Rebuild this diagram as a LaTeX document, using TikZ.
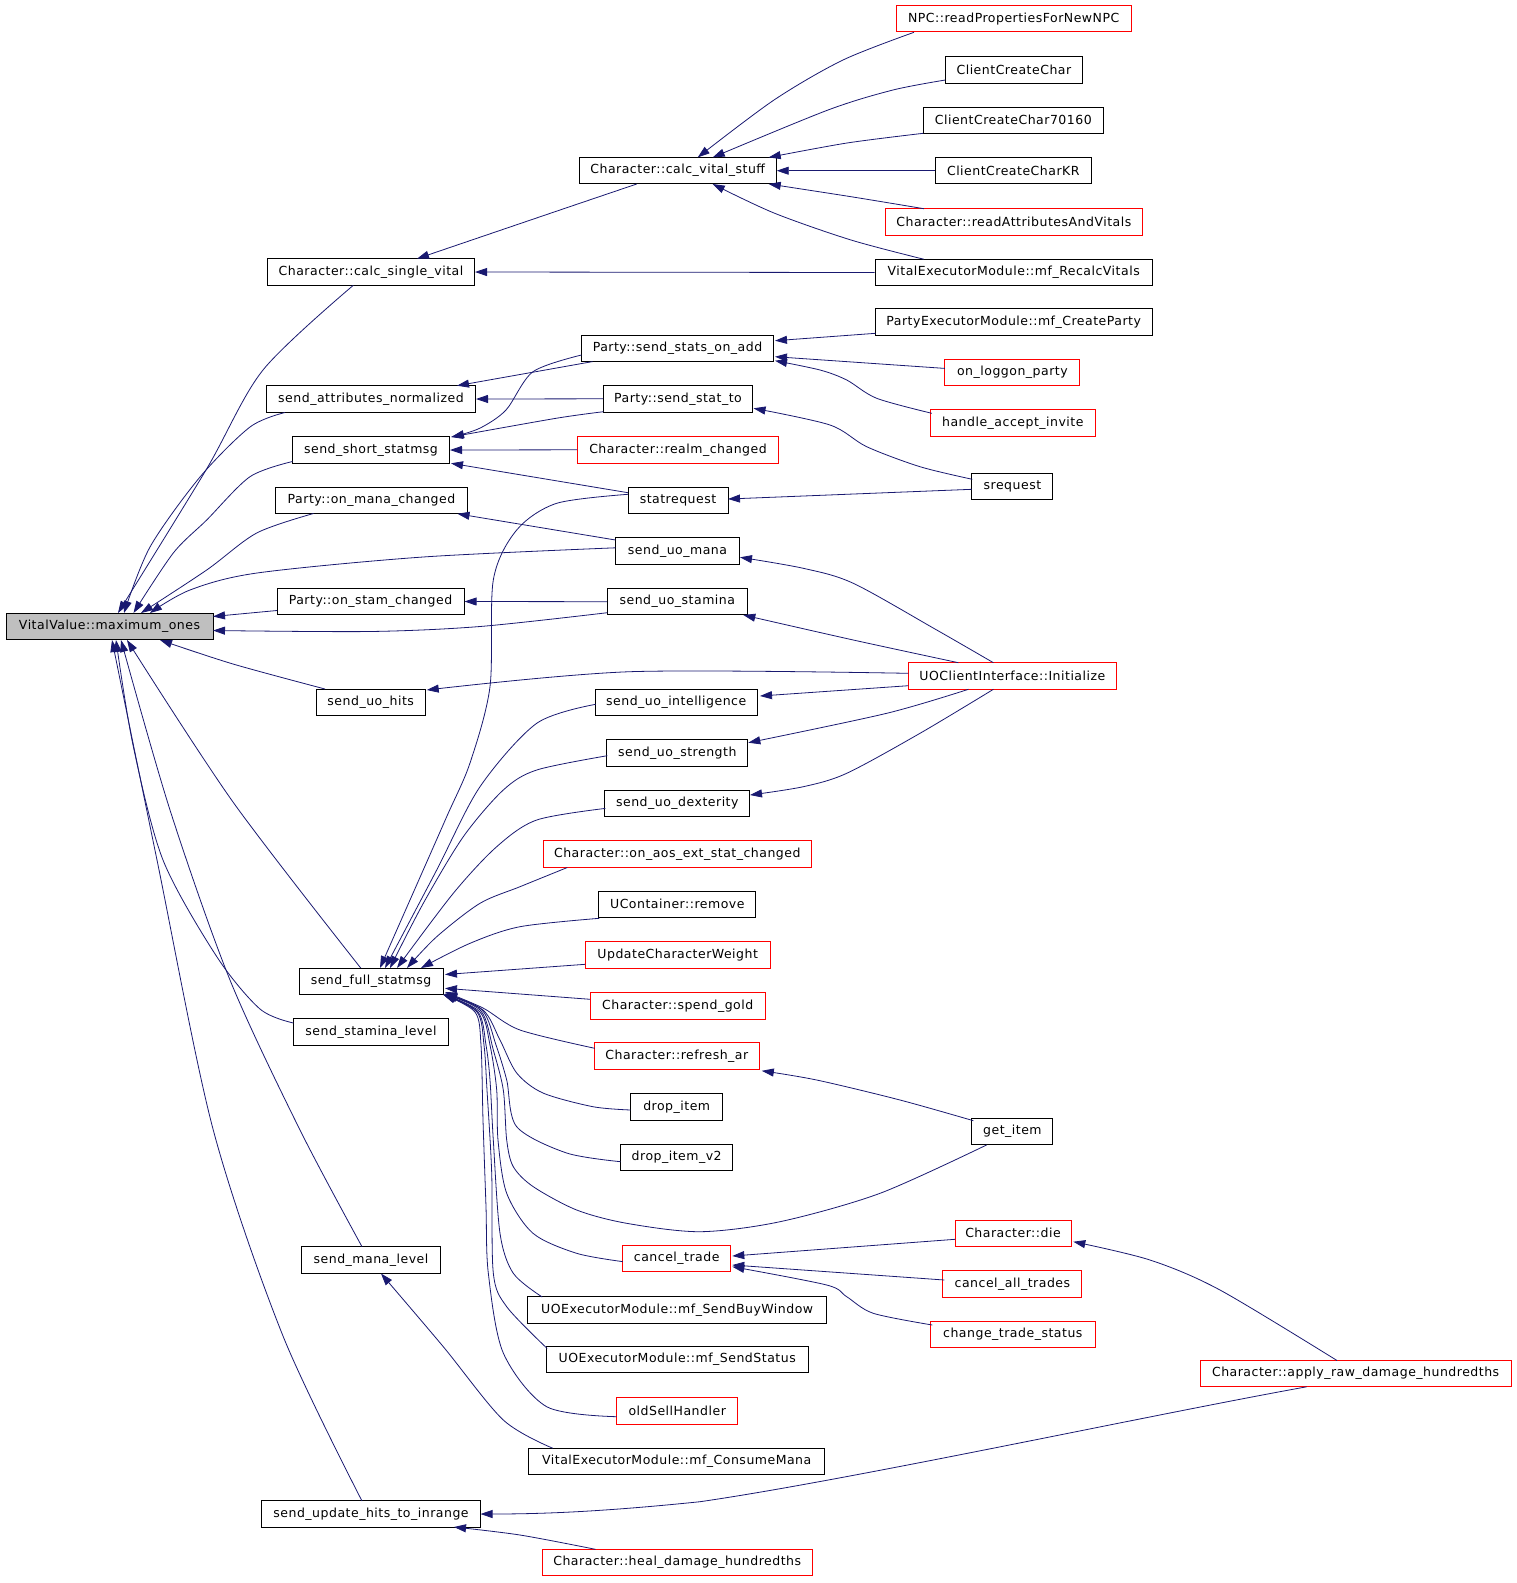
\documentclass[tikz,border=0pt]{standalone}
\usepackage{fontspec}
\usetikzlibrary{arrows.meta,calc}
\newfontfamily\fnt{DejaVu Sans}[LetterSpace=4]
\definecolor{edgecol}{RGB}{25,25,112}
\definecolor{rootgray}{RGB}{191,191,191}
\tikzset{
  box/.style={draw=black, line width=1pt, fill=white, minimum height=26.5pt, inner sep=0pt,
    font={\fnt\fontsize{12.5}{15}\selectfont}},
  redbox/.style={box, draw=red},
  edge/.style={draw=edgecol, line width=0.8pt, -{Triangle[length=12pt,width=8pt]}},
}
\begin{document}
\begin{tikzpicture}[x=1pt,y=-1pt]
\useasboundingbox (0,0) rectangle (1517,1583);
% column 0
\node[box, fill=rootgray, minimum width=207] (vv) at (109.5,626.5) {VitalValue::maximum\_ones};
% column 1
\node[box, minimum width=207] (csv) at (371,272) {Character::calc\_single\_vital};
\node[box, minimum width=209] (san) at (371,399) {send\_attributes\_normalized};
\node[box, minimum width=157] (sss) at (371,450) {send\_short\_statmsg};
\node[box, minimum width=192] (omc) at (371.5,500.5) {Party::on\_mana\_changed};
\node[box, minimum width=187] (osc) at (370.5,601.5) {Party::on\_stam\_changed};
\node[box, minimum width=109] (suh) at (370.7,702.5) {send\_uo\_hits};
\node[box, minimum width=144] (sfs) at (371,981.5) {send\_full\_statmsg};
\node[box, minimum width=155] (ssl) at (371,1032) {send\_stamina\_level};
\node[box, minimum width=139] (sml) at (371,1260) {send\_mana\_level};
\node[box, minimum width=219] (suhi) at (371,1514) {send\_update\_hits\_to\_inrange};
% column 2
\node[box, minimum width=197] (cvs) at (677.7,170.7) {Character::calc\_vital\_stuff};
\node[box, minimum width=192] (ssoa) at (677.5,348.3) {Party::send\_stats\_on\_add};
\node[box, minimum width=149] (sst) at (678,398.8) {Party::send\_stat\_to};
\node[redbox, minimum width=201] (rc) at (678,449.8) {Character::realm\_changed};
\node[box, minimum width=100] (sr) at (678,500.3) {statrequest};
\node[box, minimum width=124] (sum) at (677.5,550.8) {send\_uo\_mana};
\node[box, minimum width=140] (sus) at (677.3,601.7) {send\_uo\_stamina};
\node[box, minimum width=162] (sui) at (676.2,702.5) {send\_uo\_intelligence};
\node[box, minimum width=141] (sust) at (677.3,753) {send\_uo\_strength};
\node[box, minimum width=145] (sud) at (677.3,803.4) {send\_uo\_dexterity};
\node[redbox, minimum width=268] (aos) at (677.3,854) {Character::on\_aos\_ext\_stat\_changed};
\node[box, minimum width=157] (ucr) at (677.3,904.3) {UContainer::remove};
\node[redbox, minimum width=185] (ucw) at (677.7,955) {UpdateCharacterWeight};
\node[redbox, minimum width=175] (sg) at (677.7,1006) {Character::spend\_gold};
\node[redbox, minimum width=165] (rar) at (676.8,1055.8) {Character::refresh\_ar};
\node[box, minimum width=92] (di) at (676.7,1107) {drop\_item};
\node[box, minimum width=112] (di2) at (676.7,1157.7) {drop\_item\_v2};
\node[redbox, minimum width=108] (ct) at (676.7,1258.6) {cancel\_trade};
\node[box, minimum width=299] (sbw) at (677.2,1310) {UOExecutorModule::mf\_SendBuyWindow};
\node[box, minimum width=262] (sstat) at (677.2,1359.5) {UOExecutorModule::mf\_SendStatus};
\node[redbox, minimum width=121] (osh) at (677.2,1411) {oldSellHandler};
\node[box, minimum width=296] (cm) at (676.7,1461.5) {VitalExecutorModule::mf\_ConsumeMana};
\node[redbox, minimum width=270] (hdh) at (677.2,1562.5) {Character::heal\_damage\_hundredths};
% column 3
\node[redbox, minimum width=235] (npc) at (1013.7,18.7) {NPC::readPropertiesForNewNPC};
\node[box, minimum width=137] (ccc) at (1013.9,70) {ClientCreateChar};
\node[box, minimum width=180] (ccc7) at (1013.3,120.3) {ClientCreateChar70160};
\node[box, minimum width=156] (ccck) at (1013.3,170.7) {ClientCreateCharKR};
\node[redbox, minimum width=257] (raav) at (1013.9,222) {Character::readAttributesAndVitals};
\node[box, minimum width=277] (rv) at (1013.7,272.5) {VitalExecutorModule::mf\_RecalcVitals};
\node[box, minimum width=277] (cp) at (1013.7,322) {PartyExecutorModule::mf\_CreateParty};
\node[redbox, minimum width=135] (olp) at (1012.4,372.4) {on\_loggon\_party};
\node[redbox, minimum width=165] (hai) at (1012.8,423) {handle\_accept\_invite};
\node[box, minimum width=81] (srq) at (1012.4,486.5) {srequest};
\node[redbox, minimum width=208] (uoci) at (1012.4,676) {UOClientInterface::Initialize};
\node[box, minimum width=81] (gi) at (1012.4,1131.4) {get\_item};
\node[redbox, minimum width=116] (die) at (1013,1233.3) {Character::die};
\node[redbox, minimum width=139] (cat) at (1012.4,1283.8) {cancel\_all\_trades};
\node[redbox, minimum width=165] (cts) at (1012.8,1334.3) {change\_trade\_status};
% column 4
\node[redbox, minimum width=311] (ard) at (1355.6,1373.7) {Character::apply\_raw\_damage\_hundredths};

% ---- edges into VitalValue::maximum_ones
\draw[edge] plot[smooth] coordinates {($(csv)+(-17.7,13.3)$) (263,370) (206,470) ($(vv)+(8.5,-13.5)$)};
\draw[edge] plot[smooth] coordinates {($(san)+(-86,13.5)$) (250,427) (200,477) (150,547) ($(vv)+(14.5,-13.5)$)};
\draw[edge] plot[smooth] coordinates {($(sss)+(-78.5,11.5)$) (250,476.7) (206.7,520) (173.3,553) ($(vv)+(24,-13.5)$)};
\draw[edge] plot[smooth] coordinates {($(omc)+(-58,13)$) (256.7,533) (206.7,570) ($(vv)+(31.5,-13.5)$)};
\draw[edge] plot[smooth] coordinates {($(sum)+(-62,-3)$) (423,557) (257,573) (190,590) ($(vv)+(40.5,-13.5)$)};
\draw[edge] ($(osc)+(-93.5,9)$) -- ($(vv)+(103.5,-10)$);
\draw[edge] plot[smooth] coordinates {($(sus)+(-70,11)$) (480,626.5) (370,631.5) ($(vv)+(103.5,4)$)};
\draw[edge] plot[smooth] coordinates {($(suh)+(-45.7,-13.5)$) (233,664) ($(vv)+(50.5,13.5)$)};
\draw[edge] plot[smooth] coordinates {($(sfs)+(-10.3,-13.5)$) (233,802) ($(vv)+(17.5,13.5)$)};
\draw[edge] plot[smooth] coordinates {($(ssl)+(-77.5,-9)$) (260,1009) (217,957) (163,860) (133,745) ($(vv)+(6.5,13.5)$)};
\draw[edge] plot[smooth] coordinates {($(sml)+(-9,-13.3)$) (300,1130) (230,980) (170,810) ($(vv)+(11.5,13.5)$)};
\draw[edge] plot[smooth] coordinates {($(suhi)+(-9,-13)$) (283,1336) (213,1129) (157,860) ($(vv)+(2.5,13.5)$)};

% ---- calc_single_vital / calc_vital_stuff
\draw[edge] plot[smooth] coordinates {($(cvs)+(-41,13.3)$) (560,210) ($(csv)+(46,-13.3)$)};
\draw[edge] (rv.west) -- (csv.east);
\draw[edge] plot[smooth] coordinates {($(npc)+(-99.7,13.6)$) (843,60) (774,100) ($(cvs)+(20,-13.3)$)};
\draw[edge] plot[smooth] coordinates {($(ccc)+(-68.5,10)$) (893,90) (828,110) ($(cvs)+(35,-13.3)$)};
\draw[edge] plot[smooth] coordinates {($(ccc7)+(-90,13)$) (847,143) ($(cvs)+(91,-13.3)$)};
\draw[edge] (ccck.west) -- (cvs.east);
\draw[edge] plot[smooth] coordinates {($(raav)+(-90,-13.3)$) (851,196.7) ($(cvs)+(91,13.3)$)};
\draw[edge] plot[smooth] coordinates {($(rv)+(-90,-13.3)$) (851,240) (774,213) ($(cvs)+(35,13.3)$)};

% ---- party / short statmsg
\draw[edge] ($(ssoa)+(-85,13.3)$) -- ($(san)+(86,-13.3)$);
\draw[edge] plot[smooth] coordinates {($(ssoa)+(-96,6.7)$) (533,371.7) (506,410) (479.6,428.3) ($(sss)+(81,-13)$)};
\draw[edge] (sst.west) -- (san.east);
\draw[edge] plot[smooth] coordinates {($(sst)+(-74.5,12.9)$) (556,418.3) ($(sss)+(80,-13)$)};
\draw[edge] (rc.west) -- (sss.east);
\draw[edge] ($(sr)+(-50,-7.6)$) -- ($(sss)+(80,13.3)$);
\draw[edge] ($(sum)+(-62,-10.8)$) -- ($(omc)+(86,13.3)$);
\draw[edge] (sus.west) -- (osc.east);
\draw[edge] ($(cp)+(-138,11.3)$) -- ($(ssoa)+(97.5,-7.6)$);
\draw[edge] ($(olp)+(-67.5,-4)$) -- ($(ssoa)+(97.5,8.4)$);
\draw[edge] plot[smooth] coordinates {($(hai)+(-81,-9.7)$) (876.7,398.3) (846.7,380) (820,370) ($(ssoa)+(97.5,12.4)$)};
\draw[edge] plot[smooth] coordinates {($(srq)+(-40,-7.2)$) (920,466.7) (866.7,446.7) (830,425) ($(sst)+(75.5,9.5)$)};
\draw[edge] ($(srq)+(-40.5,2.8)$) -- ($(sr)+(50,-1.3)$);

% ---- UOClientInterface::Initialize
\draw[edge] plot[smooth] coordinates {($(uoci)+(-19,-13.3)$) (936.7,630) (853.3,583.3) (803.3,568.3) ($(sum)+(62.5,6.5)$)};
\draw[edge] plot[smooth] coordinates {($(uoci)+(-54,-13.3)$) (853.3,640) ($(sus)+(66,13.3)$)};
\draw[edge] plot[smooth] coordinates {($(uoci)+(-104,-2.7)$) (630,671.7) ($(suh)+(56,-12.5)$)};
\draw[edge] ($(uoci)+(-104,9.7)$) -- ($(sui)+(83.8,-6.5)$);
\draw[edge] plot[smooth] coordinates {($(uoci)+(-44,13.3)$) (886.7,713.3) ($(sust)+(71,-10.3)$)};
\draw[edge] plot[smooth] coordinates {($(uoci)+(-19,13.3)$) (920,733.3) (846.7,773.3) (803.3,786.7) ($(sud)+(72.7,-8.4)$)};

% ---- fan into send_full_statmsg (top)
\draw[edge] plot[smooth] coordinates {($(sr)+(-50,-6)$) (556.7,503.3) (516.7,530) (493.3,580) (490,686.7) (470,763) (446.7,816.7) (410,900) ($(sfs)+(9,-13.5)$)};
\draw[edge] plot[smooth] coordinates {($(sui)+(-80.5,1.8)$) (536.7,723.3) (480,786.7) (436.7,870) ($(sfs)+(14,-13.5)$)};
\draw[edge] plot[smooth] coordinates {($(sust)+(-70,2.7)$) (536.7,770) (503.3,790) (463.3,836.7) (423.3,903.3) ($(sfs)+(19,-13.5)$)};
\draw[edge] plot[smooth] coordinates {($(sud)+(-72,5)$) (536.7,820) (496.7,846.7) (453.3,893.3) ($(sfs)+(26,-13.5)$)};
\draw[edge] plot[smooth] coordinates {($(aos)+(-110,13.5)$) (520,886.7) (480,903.3) (436.7,936.7) ($(sfs)+(36,-13.5)$)};
\draw[edge] plot[smooth] coordinates {($(ucr)+(-78,14)$) (520,926.7) (470,943.3) ($(sfs)+(50,-13.5)$)};
\draw[edge] ($(ucw)+(-92.5,9.3)$) -- ($(sfs)+(74,-7)$);
\draw[edge] ($(sg)+(-87.5,-6.7)$) -- ($(sfs)+(74,6.8)$);
\draw[edge] plot[smooth] coordinates {($(rar)+(-82,-7.5)$) (520,1030) (483,1008) ($(sfs)+(74,10.5)$)};
% ---- bundle into send_full_statmsg (bottom right)
\draw[edge] plot[smooth] coordinates {($(di)+(-46,3)$) (593,1106.7) (543,1093) (516.7,1073) (500,1040) (483,1010) ($(sfs)+(74,12)$)};
\draw[edge] plot[smooth] coordinates {($(di2)+(-56,4)$) (566.7,1153) (516.7,1126.7) (506.7,1080) (496,1045) (482,1010) ($(sfs)+(74,12.5)$)};
\draw[edge] plot[smooth] coordinates {($(gi)+(-25.7,13.5)$) (880,1193.3) (780,1221.7) (700,1231.7) (626.7,1223.3) (576.7,1210) (533.3,1186.7) (513.3,1166.7) (506.7,1140) (503.3,1090) (493.3,1050) (481,1011) ($(sfs)+(74,13)$)};
\draw[edge] plot[smooth] coordinates {($(ct)+(-54,3)$) (576.7,1253.3) (533,1233.3) (506.7,1193.3) (498,1140) (496.7,1090) (490,1045) (480,1012) ($(sfs)+(73,13)$)};
\draw[edge] plot[smooth] coordinates {($(sbw)+(-135,-13)$) (513.3,1273.3) (500,1233.3) (493.3,1140) (490,1080) (486,1045) (478,1012) ($(sfs)+(73,13)$)};
\draw[edge] plot[smooth] coordinates {($(sstat)+(-130,-11)$) (506.7,1306.7) (493.3,1273) (491.7,1173) (487,1090) (484,1045) (477,1012) ($(sfs)+(72,13)$)};
\draw[edge] plot[smooth] coordinates {($(osh)+(-60.5,5.7)$) (546.7,1406.7) (503.3,1353) (488.3,1273) (486,1206.7) (483,1120) (481,1045) (475,1012) ($(sfs)+(72,13)$)};

% ---- lower right
\draw[edge] plot[smooth] coordinates {($(gi)+(-39,-10.7)$) (900,1100) (816.7,1080) ($(rar)+(85,15)$)};
\draw[edge] ($(die)+(-58,6)$) -- ($(ct)+(55.6,-2.6)$);
\draw[edge] ($(cat)+(-68,-3.8)$) -- ($(ct)+(55.6,6.4)$);
\draw[edge] plot[smooth] coordinates {($(cts)+(-80.5,-9.3)$) (873.3,1313.3) (846.7,1296.7) (826.7,1285) ($(ct)+(55.6,8.1)$)};
\draw[edge] plot[smooth] coordinates {($(ard)+(-18.6,-13.2)$) (1220,1290) (1150,1260) ($(die)+(60.3,8.4)$)};
\draw[edge] plot[smooth] coordinates {($(cm)+(-124,-13.3)$) (503.3,1420) (443.3,1346.7) ($(sml)+(10,13.5)$)};
\draw[edge] ($(ard)+(-49,13.1)$) .. controls (1150,1415) and (850,1480) .. (700,1501.7) .. controls (600,1512) and (540,1514) .. ($(suhi)+(109.5,0)$);
\draw[edge] plot[smooth] coordinates {($(hdh)+(-81.7,-13.2)$) (520,1535) ($(suhi)+(83,13)$)};
\end{tikzpicture}
\end{document}
